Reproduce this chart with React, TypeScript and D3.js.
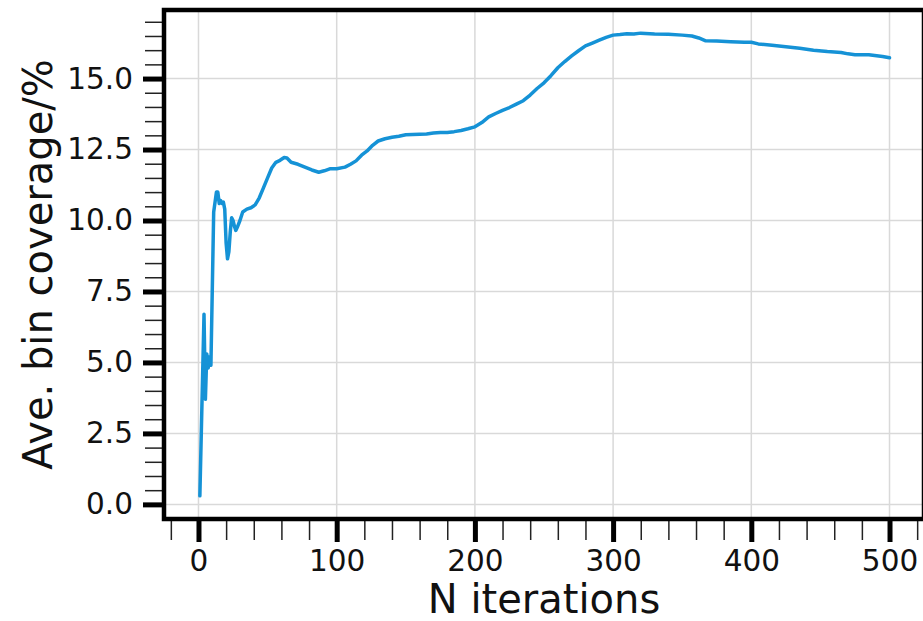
import React, { useEffect, useRef } from 'react';
import * as d3 from 'd3';

// iteration number and average bin coverage (%)
const iterations = [
  1, 4, 5, 6, 7, 8, 9, 11, 13, 14, 15, 16, 17, 18, 19, 20, 21, 22, 23, 24,
  25, 26, 27, 28, 30, 32, 35, 38, 41, 44, 47, 50, 53, 56, 59, 62, 64, 67,
  72, 77, 82, 87, 91, 95, 100, 106, 110, 114, 118, 122, 126, 130, 135, 140,
  145, 150, 155, 160, 165, 170, 175, 180, 185, 190, 195, 200, 205, 210, 215,
  220, 225, 230, 235, 240, 245, 250, 255, 260, 265, 270, 275, 280, 285, 290,
  295, 300, 305, 310, 315, 320, 330, 340, 350, 357, 362, 367, 375, 385, 395,
  400, 405, 415, 425, 435, 445, 455, 465, 470, 475, 485, 495, 500,
];
const coverage = [
  0.3, 6.7, 3.7, 5.3, 4.8, 5.2, 4.9, 10.3, 11.0, 11.0, 10.6, 10.7, 10.6,
  10.65, 10.4, 9.2, 8.65, 8.9, 9.6, 10.1, 10.0, 9.8, 9.65, 9.75, 10.0, 10.3,
  10.4, 10.45, 10.55, 10.8, 11.15, 11.5, 11.85, 12.05, 12.12, 12.22, 12.2,
  12.05, 11.98, 11.88, 11.78, 11.7, 11.75, 11.82, 11.82, 11.88, 11.98, 12.1,
  12.3, 12.45, 12.65, 12.8, 12.88, 12.93, 12.97, 13.02, 13.03, 13.04, 13.05,
  13.08, 13.1, 13.1, 13.13, 13.17, 13.23, 13.3, 13.45, 13.65, 13.77, 13.88,
  13.98, 14.1, 14.22, 14.42, 14.65, 14.85, 15.1, 15.38, 15.6, 15.8, 15.98,
  16.15, 16.25, 16.35, 16.45, 16.53, 16.55, 16.58, 16.57, 16.6, 16.57, 16.56,
  16.53, 16.5, 16.43, 16.33, 16.32, 16.3, 16.28, 16.28, 16.22, 16.17, 16.12,
  16.07, 16.0, 15.95, 15.92, 15.87, 15.84, 15.84, 15.78, 15.73,
];

const xMajorTicks = [0, 100, 200, 300, 400, 500];
const yMajorTicks = [0, 2.5, 5, 7.5, 10, 12.5, 15];

const App = () => {
  const svgRef = useRef<SVGSVGElement>(null);

  useEffect(() => {
    const svg = d3.select(svgRef.current);
    svg.selectAll('*').remove();

    const width = 923;
    const height = 621;
    const margin = { top: 10, right: -1, bottom: 102, left: 164 };
    const chartWidth = width - margin.left - margin.right;
    const chartHeight = height - margin.top - margin.bottom;
    const font = 'DejaVu Sans, sans-serif';
    const lineColor = '#1592d6';

    svg.attr('width', width).attr('height', height);

    const chart = svg
      .append('g')
      .attr('transform', `translate(${margin.left},${margin.top})`);

    const xScale = d3.scaleLinear().domain([-24.95, 524.95]).range([0, chartWidth]);
    const yScale = d3.scaleLinear().domain([-0.515, 17.415]).range([chartHeight, 0]);

    // grid
    chart.append('g')
      .selectAll('line')
      .data(xMajorTicks)
      .enter()
      .append('line')
      .attr('x1', d => xScale(d))
      .attr('x2', d => xScale(d))
      .attr('y1', 0)
      .attr('y2', chartHeight)
      .attr('stroke', '#d9d9d9')
      .attr('stroke-width', 1.5);

    chart.append('g')
      .selectAll('line')
      .data(yMajorTicks)
      .enter()
      .append('line')
      .attr('x1', 0)
      .attr('x2', chartWidth)
      .attr('y1', d => yScale(d))
      .attr('y2', d => yScale(d))
      .attr('stroke', '#d9d9d9')
      .attr('stroke-width', 1.5);

    // the series
    const points = iterations.map((it, i) => [it, coverage[i]] as [number, number]);
    const line = d3.line<[number, number]>()
      .x(d => xScale(d[0]))
      .y(d => yScale(d[1]));

    chart.append('path')
      .datum(points)
      .attr('d', line)
      .attr('fill', 'none')
      .attr('stroke', lineColor)
      .attr('stroke-width', 3.5)
      .attr('stroke-linejoin', 'round')
      .attr('stroke-linecap', 'round');

    // axes
    const xAxis = d3.axisBottom(xScale)
      .tickValues(xMajorTicks)
      .tickSize(23)
      .tickPadding(8)
      .tickFormat(d => `${d}`);
    const xMinor = d3.axisBottom(xScale)
      .tickValues(d3.range(-20, 521, 20).filter(v => v % 100 !== 0))
      .tickSize(21)
      .tickFormat(() => '');

    const yAxis = d3.axisLeft(yScale)
      .tickValues(yMajorTicks)
      .tickSize(21)
      .tickPadding(10)
      .tickFormat(d3.format('.1f'));
    const yMinor = d3.axisLeft(yScale)
      .tickValues(d3.range(0, 35).map(i => i * 0.5).filter(v => v % 2.5 !== 0 && v < 17.4))
      .tickSize(19)
      .tickFormat(() => '');

    const gx = chart.append('g')
      .attr('transform', `translate(0,${chartHeight})`)
      .call(xAxis);
    const gxm = chart.append('g')
      .attr('transform', `translate(0,${chartHeight})`)
      .call(xMinor);
    const gy = chart.append('g').call(yAxis);
    const gym = chart.append('g').call(yMinor);

    [gx, gxm, gy, gym].forEach(g => g.select('.domain').remove());
    [gx, gy].forEach(g => {
      g.selectAll('.tick line').attr('stroke', '#000').attr('stroke-width', 5);
      g.selectAll('.tick text')
        .attr('fill', '#111')
        .style('font-family', font)
        .style('font-size', '29.5px');
    });
    [gxm, gym].forEach(g => {
      g.selectAll('.tick line').attr('stroke', '#222').attr('stroke-width', 1.5);
    });

    // frame
    chart.append('rect')
      .attr('x', 0)
      .attr('y', 0)
      .attr('width', chartWidth)
      .attr('height', chartHeight)
      .attr('fill', 'none')
      .attr('stroke', '#000')
      .attr('stroke-width', 4.5);

    // axis titles
    svg.append('text')
      .attr('x', margin.left + chartWidth / 2)
      .attr('y', 613)
      .attr('text-anchor', 'middle')
      .style('font-family', font)
      .style('font-size', '40px')
      .style('fill', '#111')
      .text('N iterations');

    svg.append('text')
      .attr('transform', `translate(52,${margin.top + chartHeight / 2}) rotate(-90)`)
      .attr('text-anchor', 'middle')
      .style('font-family', font)
      .style('font-size', '40px')
      .style('fill', '#111')
      .text('Ave. bin coverage/%');
  }, []);

  return (
    <div style={{ position: 'absolute', left: 0, top: 0 }}>
      <svg ref={svgRef} style={{ display: 'block' }}></svg>
    </div>
  );
};

export default App;
